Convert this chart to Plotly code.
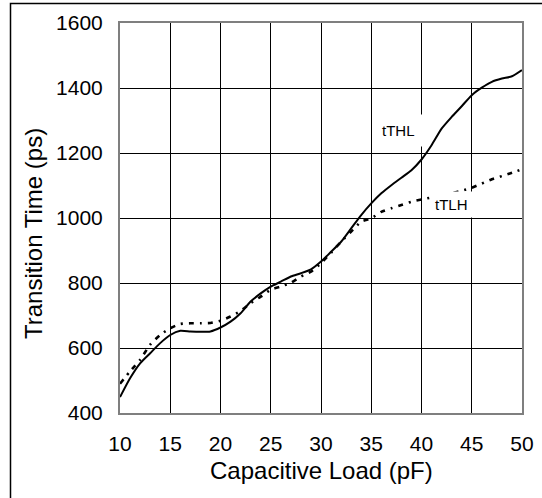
import plotly.graph_objects as go

# Data
load_pf = [10, 11, 12, 13, 14, 15, 16, 17, 18, 19, 20, 21, 22, 23, 24, 25, 26, 27, 28, 29, 30,
           31, 32, 33, 34, 35, 36, 37, 38, 39, 40, 41, 42, 43, 44, 45, 46, 47, 48, 49, 50]
t_thl = [449, 507, 553, 584, 615, 640, 653, 651, 650, 651, 663, 681, 707, 743, 768, 789, 804, 820, 830, 842, 866,
         896, 927, 968, 1009, 1045, 1076, 1101, 1124, 1147, 1180, 1224, 1275, 1311, 1344, 1378, 1401, 1419, 1429, 1436, 1455]
t_tlh = [490, 528, 564, 610, 640, 661, 674, 676, 676, 677, 684, 697, 714, 738, 758, 779, 789, 801, 820, 835, 861,
         893, 927, 958, 989, 999, 1019, 1030, 1040, 1050, 1057, 1063, 1067, 1076, 1084, 1093, 1106, 1119, 1129, 1139, 1150]

x_ticks = [10, 15, 20, 25, 30, 35, 40, 45, 50]
y_ticks = [400, 600, 800, 1000, 1200, 1400, 1600]

FONT = "Liberation Sans, Arial, sans-serif"

fig = go.Figure()
fig.add_trace(go.Scatter(x=load_pf, y=t_tlh, mode="lines", name="tTLH",
                         line=dict(color="black", width=2.6, dash="5px,6px,2px,6px", shape="spline", smoothing=0.6)))
fig.add_trace(go.Scatter(x=load_pf, y=t_thl, mode="lines", name="tTHL",
                         line=dict(color="black", width=2, shape="spline", smoothing=0.6)))

W, H = 542, 498
L, R, T, B = 120, 20, 23, 85
pw, ph = W - L - R, H - T - B

def px_x(px):
    return (px - L) / pw

def px_y(py):
    return (H - B - py) / ph

fig.update_layout(
    width=W, height=H,
    margin=dict(l=L, r=R, t=T, b=B, autoexpand=False),
    paper_bgcolor="white", plot_bgcolor="white",
    showlegend=False,
    font=dict(family=FONT, color="black"),
    xaxis=dict(range=[10, 50], tickvals=x_ticks, ticktext=[str(v) for v in x_ticks],
               showgrid=True, gridcolor="black", gridwidth=1,
               showline=True, linecolor="#7f7f7f", linewidth=2, mirror=True,
               ticks="", tickfont=dict(size=21, family=FONT, color="black"),
               ticklabelstandoff=11, zeroline=False),
    yaxis=dict(range=[400, 1600], tickvals=y_ticks, ticktext=[str(v) for v in y_ticks],
               showgrid=True, gridcolor="black", gridwidth=1,
               showline=True, linecolor="#7f7f7f", linewidth=2, mirror=True,
               ticks="", tickfont=dict(size=21, family=FONT, color="black"),
               ticklabelstandoff=11, zeroline=False),
    annotations=[
        dict(text="tTHL", x=37.7, y=1268, xref="x", yref="y", showarrow=False,
             font=dict(size=15, family=FONT, color="black"), bgcolor="white", borderpad=7),
        dict(text="tTLH", x=43.0, y=1041, xref="x", yref="y", showarrow=False,
             font=dict(size=15, family=FONT, color="black"), bgcolor="white", borderpad=4),
        dict(text="Capacitive Load (pF)", x=0.5, y=px_y(471), xref="paper", yref="paper",
             showarrow=False, xanchor="center", yanchor="middle",
             font=dict(size=24, family=FONT, color="black")),
        dict(text="Transition Time (ps)", x=px_x(33), y=px_y(234), xref="paper", yref="paper",
             showarrow=False, xanchor="center", yanchor="middle", textangle=-90,
             font=dict(size=24, family=FONT, color="black")),
    ],
    shapes=[
        dict(type="rect", xref="paper", yref="paper", layer="above",
             x0=px_x(10.5), x1=px_x(560), y0=px_y(520), y1=px_y(3.5),
             line=dict(color="black", width=1.5), fillcolor="rgba(0,0,0,0)"),
    ],
)

fig.write_html("out.html", config={"displayModeBar": False},
               post_script="document.body.style.margin='0';document.body.style.overflow='hidden';")
